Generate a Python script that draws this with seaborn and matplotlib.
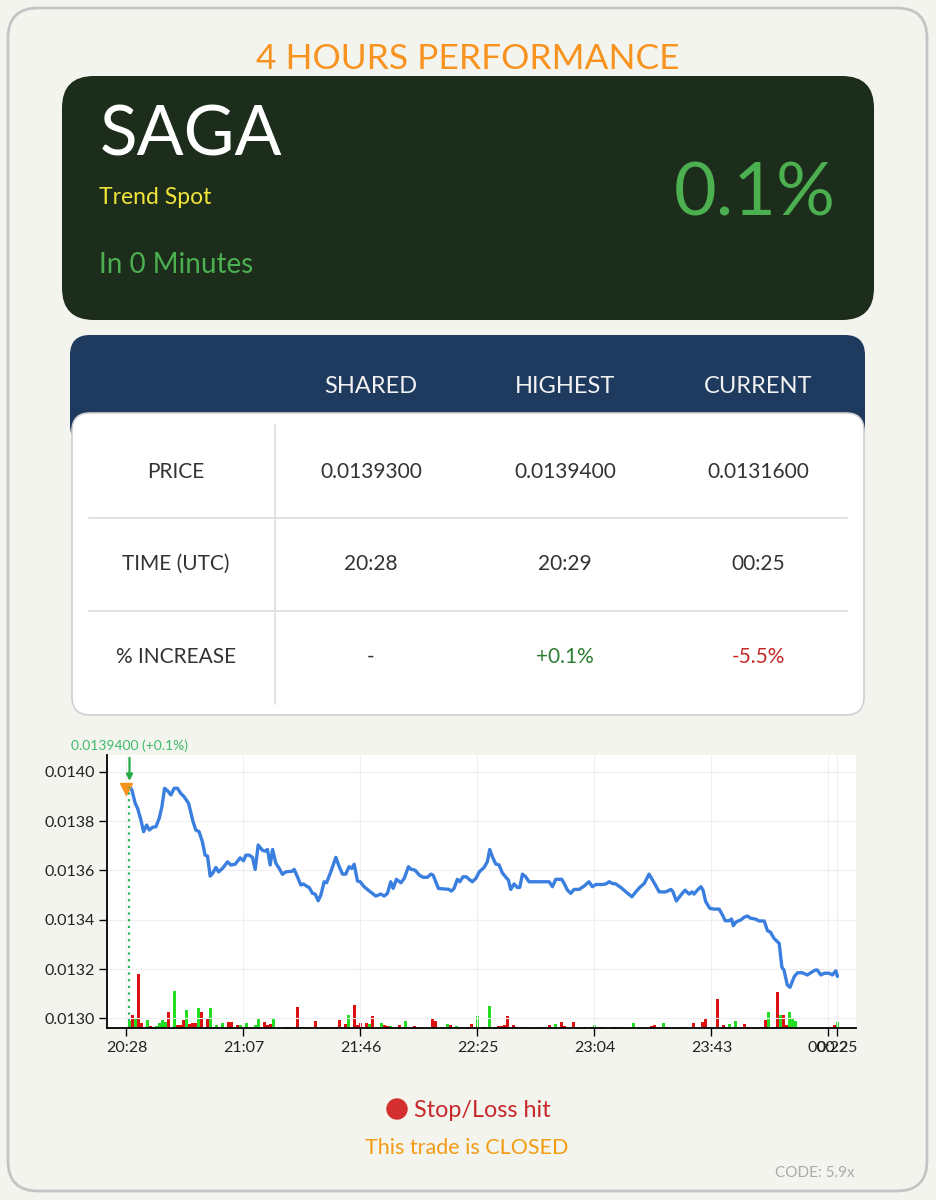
import numpy as np
import pandas as pd
import matplotlib
matplotlib.use("Agg")
import matplotlib.pyplot as plt
import seaborn as sns
from matplotlib.patches import FancyBboxPatch, Circle
from matplotlib.ticker import FormatStrFormatter

# -------------------------------
# Data
# -------------------------------
start_label = "20:28"

# price trace: minutes after 20:28 and price
minutes = [1, 1.8, 2.9, 3.7, 4.8, 5.7, 6.7, 7.6, 8.7, 9.8, 10.9, 11.8, 12.7, 13.7, 14.8,
           15.9, 17.0, 18.1, 19.2, 20.7, 21.5, 22.2, 23.1, 24.2, 25.3, 26.2, 27.0, 27.9,
           28.7, 29.8, 30.7, 32.0, 33.7, 34.8, 36.2, 37.9, 39.0, 39.8, 40.9, 42.0, 42.9,
           43.9, 45.3, 46.2, 47.0, 47.9, 48.7, 49.8, 50.9, 52.0, 53.1, 55.3, 55.9, 57.0,
           58.1, 59.0, 60.3, 60.9, 62.0, 62.9, 63.9, 64.8, 65.9, 66.7, 68.1, 69.8, 70.7,
           72.0, 73.1, 74.2, 75.1, 75.9, 77.0, 77.9, 79.2, 80.9, 83.1, 84.8, 85.9, 87.0,
           88.1, 88.9, 90.0, 91.5, 92.6, 94.0, 94.8, 96.2, 97.6, 98.9, 100.3, 101.5, 102.2,
           104.0, 106.5, 107.3, 108.3, 109.2, 110.3, 111.1, 112.2, 113.3, 114.2, 115.3,
           116.5, 117.6, 119.2, 120.3, 121.1, 122.0, 123.1, 124.2, 125.3, 126.5, 127.3,
           128.1, 129.2, 130.3, 131.1, 132.0, 133.1, 134.2, 140.9, 142.0, 143.1, 145.1,
           145.9, 147.0, 148.1, 149.2, 150.9, 152.6, 154.2, 155.3, 156.5, 158.7, 159.8,
           160.9, 162.0, 163.1, 164.8, 166.5, 168.5, 169.8, 171.1, 172.6, 174.2, 175.9,
           177.6, 179.8, 181.5, 182.2, 183.3, 184.8, 186.2, 187.6, 188.5, 189.2, 190.3,
           191.5, 192.2, 193.1, 194.5, 195.9, 197.6, 198.7, 199.6, 200.9, 201.7, 202.3,
           203.3, 204.8, 205.9, 207.0, 208.1, 209.6, 210.9, 212.6, 213.7, 214.6, 215.9,
           217.6, 218.5, 219.2, 220.3, 221.2, 222.6, 223.7, 225.3, 227.0, 228.1, 229.6,
           230.3, 231.5, 232.6, 234.3, 235.3, 236.5, 237.0]
prices = [0.013940, 0.013926, 0.013872, 0.013852, 0.013804, 0.013757, 0.013784, 0.013764,
          0.013775, 0.013777, 0.013811, 0.013858, 0.013933, 0.013923, 0.013906, 0.013933,
          0.013933, 0.013912, 0.013899, 0.013872, 0.013831, 0.013797, 0.013764, 0.013757,
          0.013716, 0.013662, 0.013658, 0.013577, 0.013588, 0.013612, 0.013594, 0.013608,
          0.013635, 0.013622, 0.013625, 0.013651, 0.013639, 0.013662, 0.013662, 0.013653,
          0.013604, 0.013703, 0.013682, 0.013678, 0.013685, 0.013622, 0.013685, 0.013629,
          0.013608, 0.013584, 0.013594, 0.013597, 0.013604, 0.013574, 0.013541, 0.013545,
          0.013534, 0.013531, 0.013507, 0.013504, 0.013477, 0.013500, 0.013554, 0.013550,
          0.013594, 0.013653, 0.013622, 0.013585, 0.013585, 0.013615, 0.013608, 0.013625,
          0.013557, 0.013554, 0.013534, 0.013517, 0.013496, 0.013504, 0.013496, 0.013507,
          0.013554, 0.013527, 0.013564, 0.013550, 0.013568, 0.013615, 0.013605, 0.013601,
          0.013581, 0.013572, 0.013572, 0.013585, 0.013581, 0.013527, 0.013524, 0.013524,
          0.013516, 0.013527, 0.013564, 0.013554, 0.013574, 0.013574, 0.013564, 0.013554,
          0.013568, 0.013594, 0.013612, 0.013635, 0.013685, 0.013655, 0.013626, 0.013622,
          0.013590, 0.013572, 0.013561, 0.013523, 0.013545, 0.013531, 0.013531, 0.013585,
          0.013574, 0.013554, 0.013554, 0.013534, 0.013564, 0.013564, 0.013547, 0.013520,
          0.013507, 0.013523, 0.013523, 0.013537, 0.013554, 0.013534, 0.013543, 0.013543,
          0.013545, 0.013554, 0.013547, 0.013545, 0.013531, 0.013513, 0.013493, 0.013513,
          0.013531, 0.013547, 0.013585, 0.013550, 0.013513, 0.013513, 0.013523, 0.013513,
          0.013476, 0.013500, 0.013520, 0.013504, 0.013513, 0.013504, 0.013520, 0.013534,
          0.013520, 0.013473, 0.013446, 0.013443, 0.013443, 0.013419, 0.013396, 0.013396,
          0.013403, 0.013376, 0.013392, 0.013399, 0.013410, 0.013415, 0.013406, 0.013403,
          0.013395, 0.013395, 0.013355, 0.013351, 0.013324, 0.013304, 0.013207, 0.013196,
          0.013135, 0.013126, 0.013169, 0.013185, 0.013185, 0.013176, 0.013185, 0.013196,
          0.013196, 0.013176, 0.013183, 0.013183, 0.013176, 0.013193, 0.013170]

# volume bars (relative size), minutes after 20:28, up (G) / down (R)
vol_minutes = [1, 2, 3, 4, 5, 6, 7, 8, 9, 10,
               11, 12, 13, 14, 16, 17, 18, 19, 20, 21,
               22, 23, 24, 25, 27, 28, 30, 32, 34, 35,
               37, 38, 40, 43, 44, 46, 47, 48, 49, 53,
               54, 57, 59, 63, 66, 70, 71, 73, 74, 76,
               77, 78, 80, 81, 82, 85, 86, 87, 88, 91,
               93, 96, 102, 103, 107, 108, 110, 114, 115, 117,
               119, 121, 124, 125, 126, 127, 129, 130, 132, 133,
               137, 141, 143, 145, 146, 149, 153, 155, 156, 158,
               163, 169, 175, 176, 179, 180, 185, 189, 192, 193,
               197, 199, 201, 203, 206, 207, 212, 213, 214, 217,
               218, 219, 220, 221, 222, 223, 236, 237]
vol_sizes = [7.3, 13.3, 9.3, 54, 5, 1, 8.3, 1.7, 0.7, 2.3,
             5, 8.3, 6, 15.7, 37.3, 3.3, 3.3, 7.7, 18.3, 4,
             5, 5, 20, 15.7, 10, 20, 3.3, 5, 6, 6,
             2.7, 3.3, 5, 3.3, 10, 6, 3.3, 4.3, 10, 1,
             1, 20.7, 1.3, 7.3, 1, 1, 8.3, 4.3, 13.3, 23.3,
             3.3, 5, 5, 4, 11.7, 5, 2.7, 1.7, 1.7, 2.7,
             6.7, 1.7, 10, 6.7, 4, 2.7, 1.7, 1, 4, 11.7,
             1, 21.7, 1.7, 1.7, 2.7, 11.7, 2.7, 1, 1, 1,
             1, 2.7, 4, 6, 1.7, 6, 1, 1, 3.3, 1,
             1, 5, 1.7, 2.7, 5, 1, 0.7, 5, 6, 9.3,
             29.3, 2.7, 4, 6.7, 4, 1, 1, 8.3, 15.7, 36,
             12.7, 12.7, 3.3, 15.7, 9.3, 6.7, 2.7, 6]
vol_up = ["G", "R", "G", "R", "R", "R", "G", "R", "R", "G",
          "G", "G", "G", "R", "G", "R", "R", "R", "G", "R",
          "R", "R", "G", "R", "R", "G", "G", "G", "R", "R",
          "R", "G", "G", "G", "G", "R", "R", "R", "G", "G",
          "R", "R", "G", "R", "G", "G", "R", "R", "G", "R",
          "R", "R", "R", "G", "R", "G", "R", "R", "G", "R",
          "G", "R", "R", "R", "G", "R", "G", "R", "R", "G",
          "R", "G", "R", "R", "R", "R", "R", "R", "G", "R",
          "G", "R", "G", "R", "R", "R", "R", "R", "G", "R",
          "R", "G", "R", "R", "G", "R", "G", "R", "R", "R",
          "R", "R", "G", "G", "R", "G", "R", "R", "G", "R",
          "G", "R", "R", "G", "G", "G", "R", "G"]

y_ticks = [0.0130, 0.0132, 0.0134, 0.0136, 0.0138, 0.0140]
x_tick_labels = ["20:28", "21:07", "21:46", "22:25", "23:04", "23:43", "00:22", "00:25"]

shared_min, shared_price = 0, 0.01393
high_min, high_price = 1, 0.01394

header = ["SHARED", "HIGHEST", "CURRENT"]
row_labels = ["PRICE", "TIME (UTC)", "% INCREASE"]
row_price = ["0.0139300", "0.0139400", "0.0131600"]
row_time = ["20:28", "20:29", "00:25"]
row_change = ["-", "+0.1%", "-5.5%"]

# -------------------------------
# Style
# -------------------------------
sns.set_theme(style="white")
plt.rcParams['font.family'] = ['Lato', 'DejaVu Sans']

BG = '#f4f4ef'
W, H = 936, 1200

fig = plt.figure(figsize=(W / 100, H / 100), dpi=100)
fig.patch.set_facecolor(BG)

# full-figure layer in pixel coords for the card
bg = fig.add_axes([0, 0, 1, 1], zorder=0)
bg.set_xlim(0, W)
bg.set_ylim(H, 0)
bg.axis('off')


def box(x0, y0, x1, y1, r, fc, ec='none', lw=0):
    bg.add_patch(FancyBboxPatch((x0, y0), x1 - x0, y1 - y0,
                                boxstyle=f"round,pad=0,rounding_size={r}",
                                fc=fc, ec=ec, lw=lw))


box(8, 8, 927, 1191, 30, BG, '#c4c4c4', 2)
bg.text(468, 69, "4 HOURS PERFORMANCE", color='#f7931e', fontsize=25.5,
        ha='center', va='baseline')

# top dark panel
box(62, 76, 874, 320, 32, '#1c2d1b')
bg.text(100, 155, "SAGA", color='white', fontsize=50, va='baseline')
bg.text(99, 204, "Trend Spot", color='#f2e53a', fontsize=16.5, va='baseline')
bg.text(99, 273, "In 0 Minutes", color='#4caf50', fontsize=20, va='baseline')
bg.text(836, 215, "0.1%", color='#4caf50', fontsize=53, ha='right', va='baseline')

# table
box(70, 335, 865, 445, 20, '#1f3a5f')
box(72, 413, 864, 715, 18, 'white', '#d0d0d0', 1.2)
col_x = [371, 565, 758]
for cx, h in zip(col_x, header):
    bg.text(cx, 393, h, color='#f2f2f2', fontsize=17, ha='center', va='baseline')

row_y = [478, 570, 663]
rows = [row_price, row_time, row_change]
for ry, lab, vals in zip(row_y, row_labels, rows):
    bg.text(176, ry, lab, color='#333333', fontsize=15, ha='center', va='baseline')
    for cx, v in zip(col_x, vals):
        c = '#333333'
        if v.startswith('+'):
            c = '#2e7d32'
        elif v.startswith('-') and len(v) > 1:
            c = '#c62828'
        bg.text(cx, ry, v, color=c, fontsize=15, ha='center', va='baseline')

for ly in [517.5, 610.5]:
    bg.plot([89, 847], [ly, ly], color='#dcdcdc', lw=1.2)
bg.plot([274.5, 274.5], [425, 704], color='#dcdcdc', lw=1.2)

# bottom status
bg.add_patch(Circle((397, 1109), 10, color='#d32f2f'))
bg.text(414, 1117, "Stop/Loss hit", color='#c62828', fontsize=16.8, va='baseline')
bg.text(467, 1154, "This trade is CLOSED", color='#f39c12', fontsize=15.5,
        ha='center', va='baseline')
bg.text(855, 1177, "CODE: 5.9x", color='#aaaaaa', fontsize=11, ha='right', va='baseline')

# -------------------------------
# Price chart
# -------------------------------
rect = [107.3 / W, 1 - 1028 / H, (856 - 107.3) / W, 273 / H]
xlim = (-6.4, 243.2)
ylim = (0.012961, 0.014068)

ax_vol = fig.add_axes(rect, zorder=1)
ax_vol.set_facecolor('white')
colors = ['#22dd22' if c == 'G' else '#dd1111' for c in vol_up]
ax_vol.bar(vol_minutes, vol_sizes, width=0.8, color=colors, linewidth=0)
ax_vol.set_xlim(*xlim)
ax_vol.set_ylim(0, max(vol_sizes) * 5.05)
ax_vol.set_xticks([])
ax_vol.set_yticks([])
for s in ax_vol.spines.values():
    s.set_visible(False)

ax = fig.add_axes(rect, zorder=2)
ax.patch.set_visible(False)
df = pd.DataFrame({'minute': minutes, 'price': prices})
sns.lineplot(data=df, x='minute', y='price', ax=ax, color='#3a7fe0', linewidth=2.4)

h0, m0 = map(int, start_label.split(':'))
tick_pos = [((int(t[:2]) * 60 + int(t[3:])) - (h0 * 60 + m0)) % 1440 for t in x_tick_labels]
ax.set_xticks(tick_pos)
ax.set_xticklabels(x_tick_labels)
ax.set_yticks(y_ticks)
ax.yaxis.set_major_formatter(FormatStrFormatter('%.4f'))
ax.set_xlim(*xlim)
ax.set_ylim(*ylim)
ax.set_xlabel('')
ax.set_ylabel('')
ax.grid(True, color='#efefef', lw=0.8)
for side in ['top', 'right']:
    ax.spines[side].set_visible(False)
for side in ['left', 'bottom']:
    ax.spines[side].set_color('black')
    ax.spines[side].set_linewidth(1.3)
ax.tick_params(axis='both', length=6, width=1, color='black', labelsize=11.5,
               labelcolor='#222222', pad=3, direction='out', left=True, bottom=True)

# shared and highest markers
ax.plot([shared_min], [shared_price], marker='v', color='#f7931e', markersize=8)
ax.vlines(high_min, ylim[0], high_price, colors='#2db35a', linestyles=(0, (1, 2)), lw=1.6)
ax.annotate('', xy=(high_min, 0.905), xytext=(high_min, 0.99),
            xycoords=('data', 'axes fraction'), textcoords=('data', 'axes fraction'),
            arrowprops=dict(arrowstyle='-|>', color='#22aa44', lw=1.6, mutation_scale=9,
                            shrinkA=0, shrinkB=0),
            annotation_clip=False)
ax.text(high_min, 1.018, f"{high_price:.7f} (+0.1%)", color='#3dbb6a', fontsize=10,
        ha='center', va='baseline', transform=ax.get_xaxis_transform())

plt.savefig("out.png", dpi=100, facecolor=BG)
